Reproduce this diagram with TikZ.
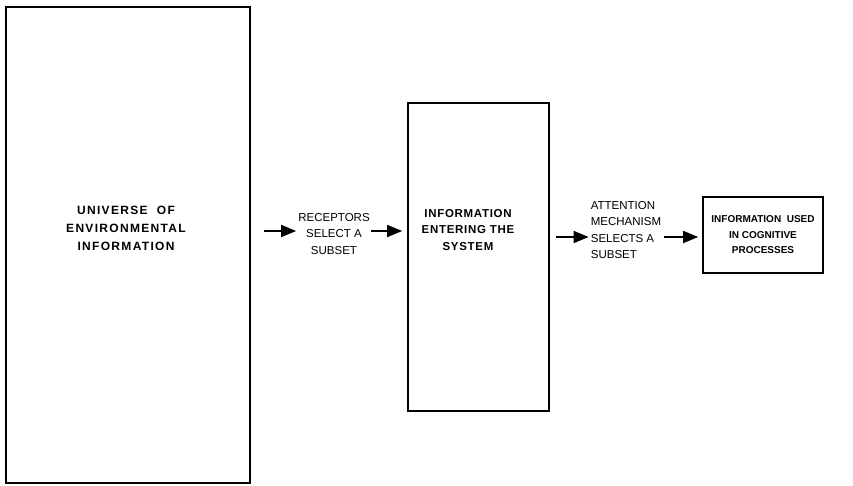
\documentclass[tikz,border=0pt]{standalone}
\usepackage{fontspec}
\setmainfont{Liberation Sans}
\usetikzlibrary{arrows.meta,positioning}

\begin{document}
\begin{tikzpicture}[
    x=1pt, y=-1pt,
    stage/.style={draw, line width=1.6pt, inner sep=0pt},
    boxtext/.style={align=center, inner sep=1pt, font=\fontsize{11}{16}\selectfont\bfseries},
    steptext/.style={inner sep=1pt, font=\fontsize{11.5}{16.5}\selectfont},
    flow/.style={line width=1.6pt, -{Triangle[length=15pt,width=12pt]}}
  ]
    \useasboundingbox (0,0) rectangle (853,486);
    \node[stage, minimum width=244pt, minimum height=476pt] (universe) at (128,245) {};
    \node[stage, minimum width=141pt, minimum height=308pt] (entering) at (478.5,257) {};
    \node[stage, minimum width=120pt, minimum height=76pt] (used) at (763,235) {};
    \node[boxtext, font=\fontsize{12}{18}\selectfont\bfseries\addfontfeatures{LetterSpace=11}] (universetxt) at (126,228) {UNIVERSE~~OF\\ENVIRONMENTAL\\INFORMATION};
    \node[boxtext, font=\fontsize{11.5}{16.5}\selectfont\bfseries\addfontfeatures{LetterSpace=6}] (enteringtxt) at (468,230) {INFORMATION\\ENTERING THE\\SYSTEM};
    \node[boxtext, font=\fontsize{10}{15.5}\selectfont\bfseries] (usedtxt) at (763,235) {INFORMATION~~USED\\IN COGNITIVE\\PROCESSES};
    \node[steptext, align=center] (receptors) at (334,234) {RECEPTORS\\SELECT A\\SUBSET};
    \node[steptext, align=left] (attention) at (626,230) {ATTENTION\\MECHANISM\\SELECTS A\\SUBSET};
    \draw[flow] ([xshift=13pt,yshift=3pt]universe.east |- receptors.west) -- ([xshift=-1pt,yshift=3pt]receptors.west);
    \draw[flow] ([yshift=3pt]receptors.east) -- ([xshift=-5pt,yshift=3pt]receptors.east -| entering.west);
    \draw[flow] ([xshift=6pt,yshift=-7pt]entering.east |- attention.west) -- ([xshift=-1pt,yshift=-7pt]attention.west);
    \draw[flow] ([xshift=2pt,yshift=-7pt]attention.east) -- ([xshift=-4pt,yshift=-7pt]attention.east -| used.west);
\end{tikzpicture}
\end{document}
